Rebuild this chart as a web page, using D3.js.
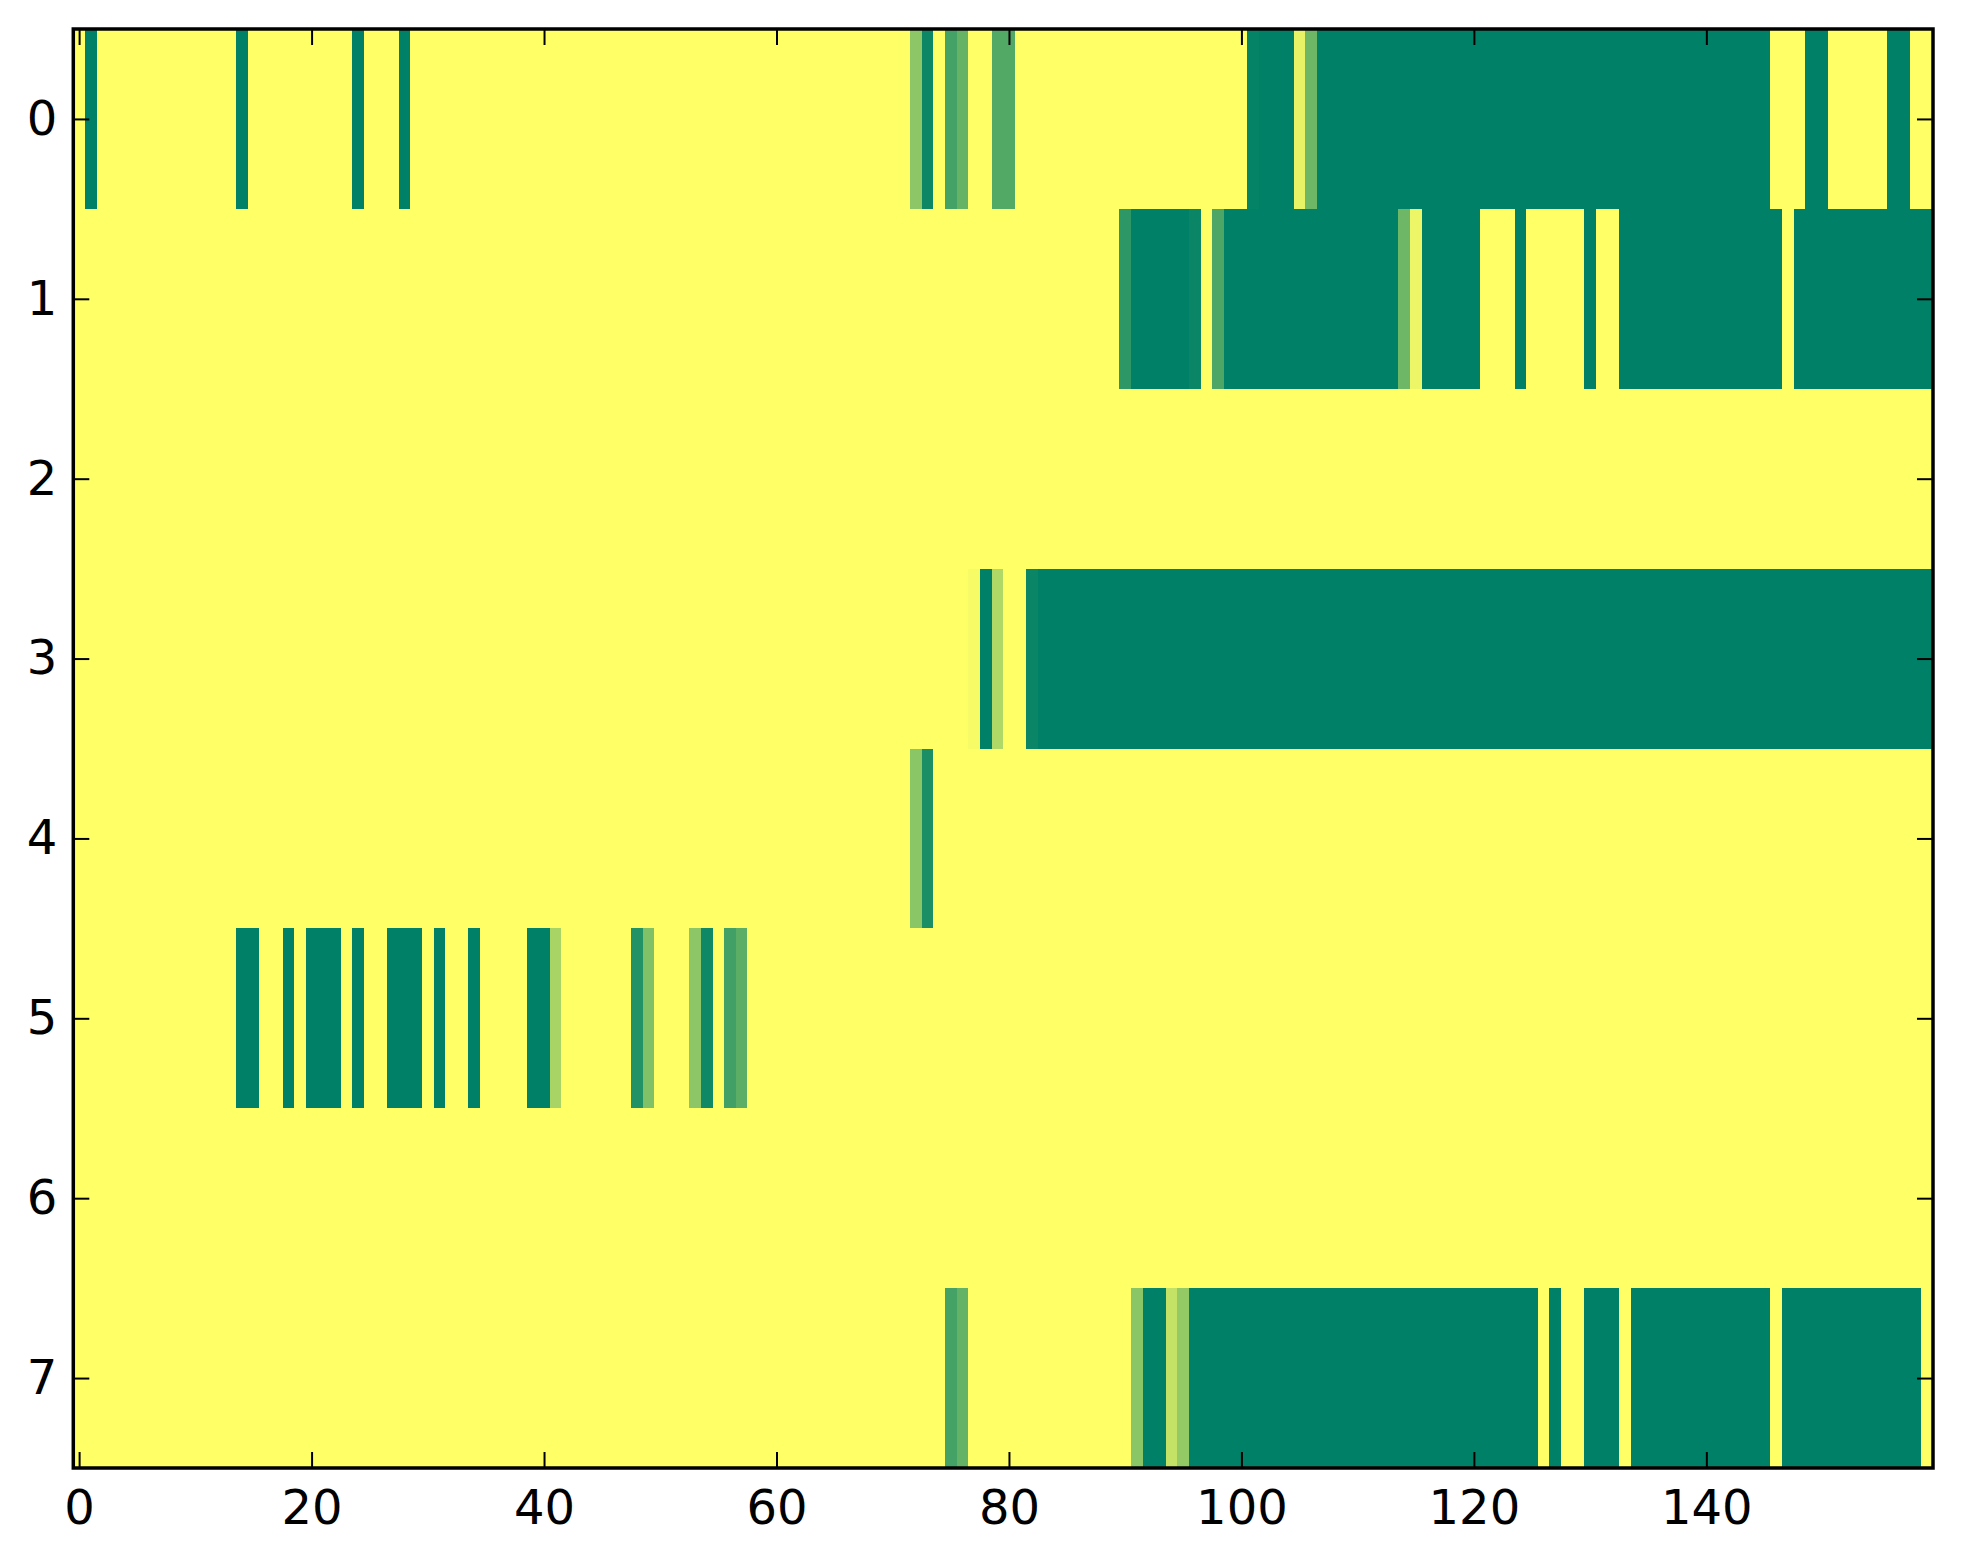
<!DOCTYPE html>
<html>
<head>
<meta charset="utf-8">
<script src="https://cdn.jsdelivr.net/npm/d3@7"></script>
<style>
  body { margin: 0; background: #fff; }
  #chart { width: 1963px; height: 1564px; }
  .axis text { font-family: "DejaVu Sans", sans-serif; font-size: 48px; fill: #000; }
  .axis line { stroke: #000; stroke-width: 2px; }
</style>
</head>
<body>
<div id="chart"></div>
<script>
// heatmap cells, given as runs [firstColumn, lastColumn, value]; all other cells are 0
const row0 = [[1, 1, 1], [14, 14, 1], [24, 24, 1], [28, 28, 1], [72, 72, 0.45], [73, 73, 0.95],
  [75, 75, 0.73], [76, 76, 0.6], [79, 80, 0.68], [101, 101, 0.98], [102, 104, 1],
  [105, 105, 0.09], [106, 106, 0.57], [107, 145, 1], [149, 150, 1], [156, 157, 1]];
const row1 = [[90, 90, 0.82], [91, 95, 1], [96, 96, 0.96], [98, 98, 0.7], [99, 113, 1],
  [114, 114, 0.57], [115, 115, 0.07], [116, 120, 1], [124, 124, 1], [130, 130, 1],
  [133, 146, 1], [148, 159, 1]];
const row2 = [];
const row3 = [[77, 77, 0.03], [78, 78, 1], [79, 79, 0.31], [82, 82, 0.96], [83, 159, 1]];
const row4 = [[72, 72, 0.46], [73, 73, 0.89]];
const row5 = [[14, 15, 1], [18, 18, 1], [20, 22, 1], [24, 24, 1], [27, 29, 1], [31, 31, 1],
  [34, 34, 1], [39, 40, 1], [41, 41, 0.34], [48, 48, 0.87], [49, 49, 0.5], [53, 53, 0.45],
  [54, 54, 0.94], [56, 56, 0.75], [57, 57, 0.64]];
const row6 = [];
const row7 = [[75, 75, 0.73], [76, 76, 0.61], [91, 91, 0.46], [92, 93, 1], [94, 94, 0.23],
  [95, 95, 0.42], [96, 125, 1], [127, 127, 1], [130, 132, 1], [134, 145, 1], [147, 158, 1]];

const rows = [row0, row1, row2, row3, row4, row5, row6, row7];
const nCols = 160;
const xTicks = [0, 20, 40, 60, 80, 100, 120, 140];
const yTicks = [0, 1, 2, 3, 4, 5, 6, 7];

const W = 1963, H = 1564;
const plotLeft = 73.3, plotRight = 1933, plotTop = 29, plotBottom = 1468;

// expand runs into the full matrix
const cells = [];
rows.forEach((runs, r) => {
  const vals = new Array(nCols).fill(0);
  runs.forEach(([a, b, v]) => { for (let c = a; c <= b; c++) vals[c] = v; });
  vals.forEach((v, c) => cells.push({ row: r, col: c, value: v }));
});

const svg = d3.select("#chart").append("svg").attr("width", W).attr("height", H);

const x = d3.scaleLinear().domain([-0.5, nCols - 0.5]).range([plotLeft, plotRight]);
const y = d3.scaleLinear().domain([-0.5, rows.length - 0.5]).range([plotTop, plotBottom]);

// summer_r colormap
const color = d3.scaleLinear().domain([0, 1]).range(["#ffff66", "#008066"]);

svg.append("g")
  .attr("shape-rendering", "crispEdges")
  .selectAll("rect")
  .data(cells)
  .enter()
  .append("rect")
  .attr("x", d => x(d.col - 0.5))
  .attr("y", d => y(d.row - 0.5))
  .attr("width", d => x(d.col + 0.5) - x(d.col - 0.5) + 0.6)
  .attr("height", d => y(d.row + 0.5) - y(d.row - 0.5) + 0.6)
  .attr("fill", d => color(d.value));

// inward ticks on all four sides
const ax = (g, axis) => { g.call(axis); g.select(".domain").remove(); };

svg.append("g").attr("class", "axis")
  .attr("transform", `translate(0,${plotBottom})`)
  .call(ax, d3.axisBottom(x).tickValues(xTicks).tickSizeInner(-16).tickSizeOuter(0).tickPadding(22));

svg.append("g").attr("class", "axis")
  .attr("transform", `translate(0,${plotTop})`)
  .call(ax, d3.axisTop(x).tickValues(xTicks).tickSizeInner(-16).tickSizeOuter(0).tickFormat(""));

svg.append("g").attr("class", "axis")
  .attr("transform", `translate(${plotLeft},0)`)
  .call(ax, d3.axisLeft(y).tickValues(yTicks).tickSizeInner(-16).tickSizeOuter(0).tickPadding(16));

svg.append("g").attr("class", "axis")
  .attr("transform", `translate(${plotRight},0)`)
  .call(ax, d3.axisRight(y).tickValues(yTicks).tickSizeInner(-16).tickSizeOuter(0).tickFormat(""));

svg.append("rect")
  .attr("x", plotLeft).attr("y", plotTop)
  .attr("width", plotRight - plotLeft).attr("height", plotBottom - plotTop)
  .attr("fill", "none").attr("stroke", "#000").attr("stroke-width", 3.5);
</script>
</body>
</html>
